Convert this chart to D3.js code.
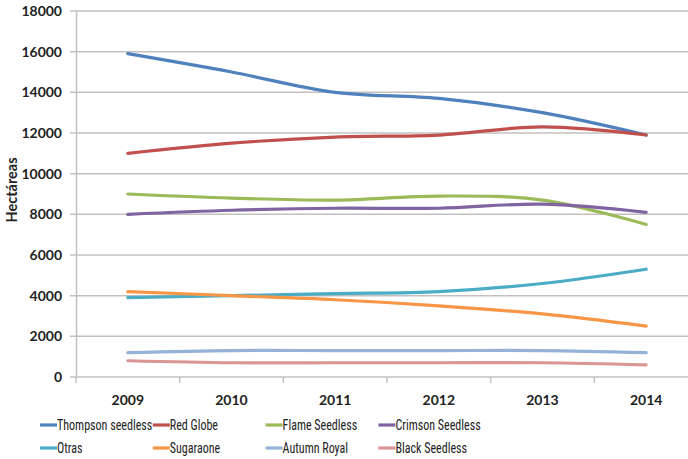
<!DOCTYPE html>
<html>
<head>
<meta charset="utf-8">
<script src="https://cdn.jsdelivr.net/npm/d3@7"></script>
<style>
  body { margin: 0; background: #fff; }
  svg { display: block; font-family: Lato, "Open Sans", sans-serif; }
</style>
</head>
<body>
<div id="chart"></div>
<script>
// years on the x axis
var years = ["2009", "2010", "2011", "2012", "2013", "2014"];
var yTicks = [0, 2000, 4000, 6000, 8000, 10000, 12000, 14000, 16000, 18000];

// series values (hectareas)
var thompson = [15900, 15000, 14000, 13700, 13000, 11900];
var redGlobe = [11000, 11500, 11800, 11900, 12300, 11900];
var flame = [9000, 8800, 8700, 8900, 8700, 7500];
var crimson = [8000, 8200, 8300, 8300, 8500, 8100];
var otras = [3900, 4000, 4100, 4200, 4600, 5300];
var sugaraone = [4200, 4000, 3800, 3500, 3100, 2500];
var autumn = [1200, 1300, 1300, 1300, 1300, 1200];
var black = [800, 700, 700, 700, 700, 600];

var seriesNames = ["Thompson seedless", "Red Globe", "Flame Seedless", "Crimson Seedless",
                   "Otras", "Sugaraone", "Autumn Royal", "Black Seedless"];
var seriesValues = [thompson, redGlobe, flame, crimson, otras, sugaraone, autumn, black];
var colors = ["#4F81BD", "#C0504D", "#9BBB59", "#8064A2", "#4BACC6", "#F79646", "#95B3D7", "#D99694"];

var width = 688, height = 459;

var svg = d3.select("#chart")
  .append("svg")
  .attr("width", width)
  .attr("height", height);

var x = d3.scaleBand().domain(years).range([76, 698]);
var y = d3.scaleLinear().domain([0, 18000]).range([377, 11]);

// grid lines
svg.append("g")
  .selectAll("line")
  .data(yTicks)
  .enter()
  .append("line")
  .attr("x1", 70)
  .attr("x2", 698)
  .attr("y1", function (d) { return y(d); })
  .attr("y2", function (d) { return y(d); })
  .attr("stroke", "#c4c0c0")
  .attr("stroke-width", 1.5);

// y axis line
svg.append("line")
  .attr("x1", 76.5).attr("x2", 76.5)
  .attr("y1", y(18000)).attr("y2", y(0))
  .attr("stroke", "#c4c0c0")
  .attr("stroke-width", 1.5);

// x axis tick marks between the categories
svg.append("g")
  .selectAll("line")
  .data(years)
  .enter()
  .append("line")
  .attr("x1", function (d) { return x(d); })
  .attr("x2", function (d) { return x(d); })
  .attr("y1", y(0))
  .attr("y2", y(0) + 6)
  .attr("stroke", "#c4c0c0")
  .attr("stroke-width", 1.5);

// y tick labels
svg.append("g")
  .selectAll("text")
  .data(yTicks)
  .enter()
  .append("text")
  .attr("x", 62)
  .attr("y", function (d) { return y(d) + 5; })
  .attr("text-anchor", "end")
  .attr("font-size", 14)
  .attr("font-weight", "bold")
  .attr("fill", "#222")
  .text(function (d) { return d; });

// x tick labels
svg.append("g")
  .selectAll("text")
  .data(years)
  .enter()
  .append("text")
  .attr("x", function (d) { return x(d) + x.bandwidth() / 2; })
  .attr("y", 405)
  .attr("text-anchor", "middle")
  .attr("font-size", 14)
  .attr("font-weight", "bold")
  .attr("fill", "#222")
  .text(function (d) { return d; });

// axis title
svg.append("text")
  .attr("transform", "translate(17,190) rotate(-90)")
  .attr("text-anchor", "middle")
  .attr("font-size", 14.5)
  .attr("font-weight", "bold")
  .attr("fill", "#222")
  .text("Hectáreas");

// smooth lines
var line = d3.line()
  .x(function (d, i) { return x(years[i]) + x.bandwidth() / 2; })
  .y(function (d) { return y(d); })
  .curve(d3.curveCatmullRom.alpha(0.5));

svg.append("g")
  .selectAll("path")
  .data(seriesValues)
  .enter()
  .append("path")
  .attr("d", function (d) { return line(d); })
  .attr("fill", "none")
  .attr("stroke", function (d, i) { return colors[i]; })
  .attr("stroke-width", 3.2)
  .attr("stroke-linecap", "round");

// legend, 4 columns x 2 rows
var legend = svg.append("g")
  .selectAll("g")
  .data(seriesNames)
  .enter()
  .append("g")
  .attr("transform", function (d, i) {
    return "translate(" + (40 + (i % 4) * 112.8) + "," + (i < 4 ? 425 : 448) + ")";
  });

legend.append("line")
  .attr("x1", 0).attr("x2", 17)
  .attr("y1", 0).attr("y2", 0)
  .attr("stroke", function (d, i) { return colors[i]; })
  .attr("stroke-width", 3.2);

// legend labels are squeezed a bit, like the narrow office font
legend.append("text")
  .attr("transform", "translate(17,5) scale(0.83,1)")
  .attr("font-family", "'Liberation Sans Narrow', 'Roboto Condensed', Lato, sans-serif")
  .attr("font-size", 14.5)
  .attr("fill", "#222")
  .text(function (d) { return d; });
</script>
</body>
</html>
